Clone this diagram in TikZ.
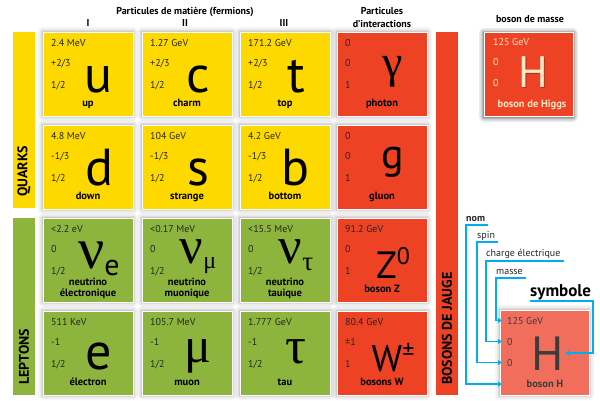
\documentclass[tikz,border=0pt]{standalone}
\usepackage{fontspec}
\setmainfont{PT Sans}
\newfontfamily\grk{Liberation Serif}
\usetikzlibrary{arrows.meta}
\definecolor{qy}{HTML}{FDD900}
\definecolor{lg}{HTML}{8DB43D}
\definecolor{rb}{HTML}{EE4224}
\definecolor{lr}{HTML}{F26E5C}
\definecolor{blu}{HTML}{00ADEF}
\definecolor{cream}{HTML}{FFE9C9}
\definecolor{dg}{HTML}{3C3C3C}
\tikzset{
  cellbox/.style={draw=white, line width=1pt, anchor=north west, minimum width=90pt, minimum height=84pt, inner sep=0pt},
  small/.style={anchor=base west, inner sep=0pt, font=\fontsize{10}{12}\selectfont, text=black!85},
  pname/.style={anchor=south, inner sep=0pt, text depth=0pt, align=center, font=\bfseries\fontsize{10.5}{11.5}\selectfont},
  psym/.style={anchor=base, inner sep=0pt, text depth=0pt, font=\fontsize{52}{52}\selectfont},
  head/.style={anchor=base, inner sep=0pt, font=\bfseries\fontsize{10}{13}\selectfont, align=center},
  vlabel/.style={rotate=90, anchor=west, inner sep=0pt, font=\bfseries\fontsize{14}{14}\selectfont},
  legt/.style={anchor=base west, inner sep=0pt, font=\fontsize{10}{12}\selectfont, text=black!85},
  bl/.style={draw=blu, line width=1.8pt, -{Triangle[length=4pt,width=5pt]}, shorten >=-2pt},
}
\newcommand\halo[5]{%
  \foreach \s/\o in {5/0.035,3.5/0.045,2/0.06,1/0.07}{%
    \pgfmathsetmacro\op{#5*\o}%
    \fill[black,opacity=\op,rounded corners=\s] ({#1-\s},{#2-\s}) rectangle ({#1+#3+\s},{#2+#4+\s});
  }%
}
\def\ldy{0}
\newcommand\cell[9]{%
  \halo{#2}{#3}{90}{84}{1}
  \node[cellbox,fill=#4] (#1) at (#2,#3) {};
  \node[small] (#1m) at ({#2+8},{#3+14}) {#5};
  \node[small] (#1q) at ({#2+8},{#3+34}) {#6};
  \node[small] (#1s) at ({#2+8},{#3+56}) {#7};
  \node[pname] (#1n) at ({#2+45},{#3+75+\ldy}) {#8};
  \node[psym] (#1y) at ({#2+56},{#3+60}) {#9};
}
\newcommand\gsym[3]{\raisebox{#2pt}{\grk\fontsize{#1}{#1}\selectfont #3}}
\begin{document}
\begin{tikzpicture}[x=1pt,y=-1pt]
\useasboundingbox[fill=white] (0,0) rectangle (600,400);
% headers
\node[head] (hmat) at (185,14) {Particules de matière (fermions)};
\node[head] (h1) at (88,26) {I};
\node[head] (h2) at (185,26) {II};
\node[head] (h3) at (284,26) {III};
\node[head] (hint) at (382,27) {Particules\\d’interactions};
\node[head] (hmas) at (530,22) {boson de masse};
% side bars
\fill[qy] (13,32) rectangle (35,208);
\node[vlabel] (quarks) at (24,197) {QUARKS};
\fill[lg] (13,218) rectangle (35,395);
\node[vlabel] (leptons) at (24,385) {LEPTONS};
\fill[rb] (436,32) rectangle (458,395);
\node[vlabel] (jauge) at (447,385) {BOSONS DE JAUGE};
% row 1
\cell{cu}{43}{32}{qy}{2.4 MeV}{+2/3}{1/2}{up}{u}
\cell{cc}{142}{32}{qy}{1.27 GeV}{+2/3}{1/2}{charm}{c}
\cell{ct}{240}{32}{qy}{171.2 GeV}{+2/3}{1/2}{top}{t}
\cell{cg}{337}{32}{rb}{0}{0}{1}{photon}{\gsym{46}{15}{γ}}
% row 2
\cell{cd}{43}{125}{qy}{4.8 MeV}{-1/3}{1/2}{down}{d}
\cell{cs}{142}{125}{qy}{104 GeV}{-1/3}{1/2}{strange}{s}
\cell{cb}{240}{125}{qy}{4.2 GeV}{-1/3}{1/2}{bottom}{b}
\cell{cgl}{337}{125}{rb}{0}{0}{1}{gluon}{\raisebox{17pt}{\fontsize{42}{42}\selectfont g}}
% row 3
\def\ldy{4}
\cell{cne}{43}{218}{lg}{<2.2 eV}{0}{1/2}{neutrino\\électronique}{\gsym{58}{10}{ν}\raisebox{3pt}{\fontsize{30}{30}\selectfont e}}
\cell{cnm}{142}{218}{lg}{<0.17 MeV}{0}{1/2}{neutrino\\muonique}{\gsym{52}{15}{ν}\gsym{24}{10}{μ}}
\cell{cnt}{240}{218}{lg}{<15.5 MeV}{0}{1/2}{neutrino\\tauique}{\gsym{52}{15}{ν}\gsym{27}{8}{τ}}
\def\ldy{0}
\cell{cz}{337}{218}{rb}{91.2 GeV}{0}{1}{boson Z}{\fontsize{38}{38}\selectfont Z\raisebox{14pt}{\fontsize{24}{24}\selectfont 0}}
% row 4
\cell{ce}{43}{311}{lg}{511 KeV}{-1}{1/2}{électron}{\raisebox{2pt}{e}}
\cell{cm}{142}{311}{lg}{105.7 MeV}{-1}{1/2}{muon}{\gsym{50}{9}{μ}}
\cell{cta}{240}{311}{lg}{1.777 GeV}{-1}{1/2}{tau}{\gsym{52}{8}{τ}}
\cell{cw}{337}{311}{rb}{80.4 GeV}{±1}{1}{bosons W}{\fontsize{37}{37}\selectfont W\raisebox{12pt}{\fontsize{24}{24}\selectfont ±}}
% Higgs box
\halo{484}{33}{89}{84}{2.2}
\node[cellbox,fill=rb,minimum width=89pt] (higgs) at (484,32) {};
\node[small,text=cream] (hm) at (493,45) {125 GeV};
\node[small,text=cream] (hq) at (493,65) {0};
\node[small,text=cream] (hs) at (493,86) {0};
\node[anchor=base, inner sep=0pt, text depth=0pt, font=\fontsize{44}{44}\selectfont, text=black, opacity=0.25] (hHs) at (534,88) {H};
\node[anchor=base, inner sep=0pt, text depth=0pt, font=\fontsize{44}{44}\selectfont, text=cream] (hH) at (533,87) {H};
\node[pname,text=cream] (hn) at (532,108) {boson de Higgs};
% legend
\halo{500}{310}{89}{85}{1}
\node[cellbox,fill=lr,minimum width=89pt,minimum height=85pt] (leg) at (500,310) {};
\node[legt,text=dg] (lgm) at (507,324) {125 GeV};
\node[legt,text=dg] (lgc) at (507,345) {0};
\node[legt,text=dg] (lgs) at (507,366) {0};
\node[pname,text=dg] (lgn) at (545,388) {boson H};
\node[anchor=base, inner sep=0pt, text depth=0pt, font=\fontsize{48}{48}\selectfont, text=dg] (lgH) at (548,370) {H};
\node[legt,font=\bfseries\fontsize{10}{12}\selectfont] (lnom) at (466,221) {nom};
\node[legt] (lspin) at (477,238) {spin};
\node[legt] (lchg) at (486,256) {charge électrique};
\node[legt] (lmas) at (496,274) {masse};
\node[legt,font=\bfseries\fontsize{17}{17}\selectfont,text=black] (lsym) at (530,296) {symbole};
\coordinate (symc) at (593,301);
\draw[bl] ([shift={(3,4)}]lnom.base east) -- ([shift={(0,4)}]lnom.base west) |- (leg.west |- lgn);
\draw[bl] ([shift={(3,4)}]lspin.base east) -- ([shift={(0,4)}]lspin.base west) |- (leg.west |- lgs);
\draw[bl] ([shift={(3,5)}]lchg.base east) -- ([shift={(0,5)}]lchg.base west) |- (leg.west |- lgc);
\draw[bl] ([shift={(3,4)}]lmas.base east) -- ([shift={(0,4)}]lmas.base west) |- (leg.west |- lgm);
\draw[bl,shorten >=1pt] ([shift={(0,5)}]lsym.base west) -- (symc) |- (lgH.east);
\end{tikzpicture}
\end{document}
